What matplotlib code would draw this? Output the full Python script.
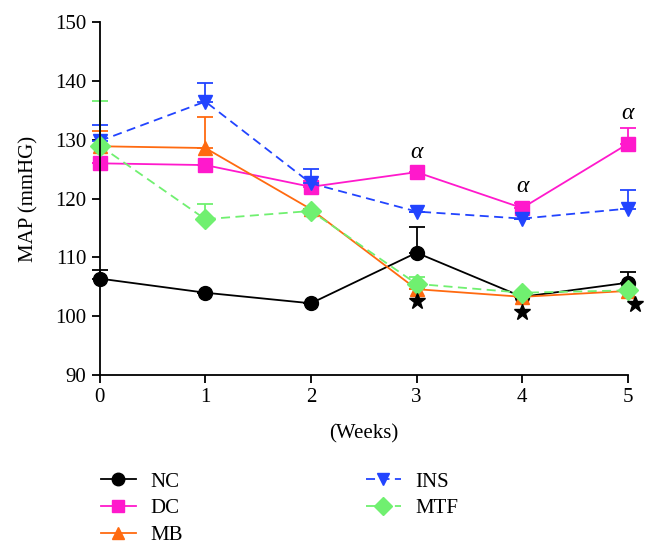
import numpy as np
import matplotlib.pyplot as plt

plt.rcParams['font.family'] = ['Liberation Serif', 'DejaVu Serif']

weeks = [0, 1, 2, 3, 4, 5]
labels = ['NC', 'DC', 'MB', 'INS', 'MTF']

nc = [106.4, 104.0, 102.2, 110.8, 103.3, 105.7]
nc_err = [1.5, 0, 0, 4.4, 0, 1.8]
dc = [126.0, 125.7, 122.0, 124.5, 118.4, 129.3]
dc_err = [0, 0, 1.0, 0, 0.9, 2.7]
mb = [128.9, 128.6, 118.2, 104.6, 103.3, 104.3]
mb_err = [2.6, 5.2, 0, 0, 0, 0]
ins = [129.8, 136.5, 122.6, 117.8, 116.6, 118.3]
ins_err = [2.7, 3.1, 2.4, 0, 0, 3.2]
mtf = [129.0, 116.5, 117.9, 105.5, 104.0, 104.4]
mtf_err = [7.6, 2.5, 0, 1.1, 0, 0]

star_x = [3, 4, 5.07]
star_y = [102.6, 100.7, 102.0]
alpha_x = [3, 4, 5]
alpha_y = [127.8, 122.0, 134.4]

series = [nc, dc, mb, ins, mtf]
errs = [nc_err, dc_err, mb_err, ins_err, mtf_err]
colors = ['black', '#ff19cc', '#ff6a10', '#2244ff', '#70f070']
markers = ['o', 's', '^', 'v', 'D']
styles = ['-', '-', '-', '--', '--']

fig = plt.figure(figsize=(6.56, 5.54), dpi=100)
ax = fig.add_axes([0.152, 0.323, 0.805, 0.637])

handles = []
for i in range(5):
    y = np.array(series[i])
    e = np.array(errs[i])
    eb = ax.errorbar(weeks, y, yerr=[np.zeros_like(e), e], fmt='none',
                     ecolor=colors[i], elinewidth=1.3, capsize=6, capthick=1.3)
    for art in eb.lines[1] + eb.lines[2]:
        art.set_clip_on(False)
    h, = ax.plot(weeks, y, ls=styles[i], color=colors[i], lw=1.3,
                 marker=markers[i], markersize=10, label=labels[i],
                 clip_on=False,
                 dashes=(5, 3) if styles[i] == '--' else (None, None))
    handles.append(h)

ax.plot(star_x, star_y, ls='none', marker='*', color='black', markersize=12,
        clip_on=False)
for x, y in zip(alpha_x, alpha_y):
    ax.text(x, y, 'α', ha='center', va='center', fontsize=17, style='italic')

ax.set_xlim(0, 5)
ax.set_ylim(90, 150)
ax.set_xticks(weeks)
ax.set_yticks(np.arange(90, 151, 10))
ax.spines['top'].set_visible(False)
ax.spines['right'].set_visible(False)
ax.spines['left'].set_linewidth(1.3)
ax.spines['bottom'].set_linewidth(1.3)
ax.tick_params(axis='both', labelsize=15, length=6, width=1.3, direction='out')

ax.set_xlabel('(Weeks)', fontsize=15, labelpad=12)
ax.set_ylabel('MAP (mmHG)', fontsize=15, labelpad=12)

fig.legend(handles=handles, loc='upper left', bbox_to_anchor=(0.125, 0.182),
           ncol=2, frameon=False, fontsize=15, handlelength=1.7,
           columnspacing=8.75, labelspacing=0.35, handletextpad=0.7,
           markerscale=0.9)

fig.savefig('out.png', dpi=100)
